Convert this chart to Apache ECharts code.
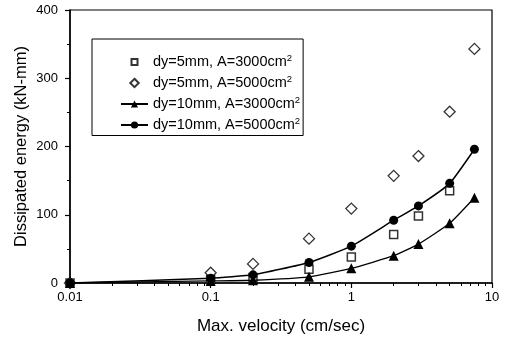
<!DOCTYPE html>
<html>
<head>
<meta charset="utf-8">
<script src="https://cdn.jsdelivr.net/npm/echarts@6/dist/echarts.min.js"></script>
<style>
  html, body { margin: 0; padding: 0; background: #fff; }
  #chart { width: 508px; height: 340px; }
</style>
</head>
<body>
<div id="chart"></div>
<script>
// values
const velocity = [0.01, 0.1, 0.2, 0.5, 1, 2, 3, 5, 7.5];
const sq5mm3000 = [0, 5, 8, 20, 38, 71, 98, 135];          // open squares (no point at 7.5)
const di5mm5000 = [0, 15, 28, 65, 109, 157, 186, 251, 343]; // open diamonds
const tr10mm3000 = [0, 3, 4, 9, 21.5, 40, 57, 87.5, 125];   // filled triangles, line
const ci10mm5000 = [0, 7, 12, 30, 54, 92, 113, 146, 196];   // filled circles, line
const seriesNames = [
  'dy=5mm, A=3000cm2',
  'dy=5mm, A=5000cm2',
  'dy=10mm, A=3000cm2',
  'dy=10mm, A=5000cm2'
];
const yTicks = [0, 100, 200, 300, 400];
const minorX = [0.02,0.03,0.04,0.05,0.06,0.07,0.08,0.09,
                0.2,0.3,0.4,0.5,0.6,0.7,0.8,0.9,
                2,3,4,5,6,7,8,9];

function pairs(ys) {
  return ys.map((y, i) => [velocity[i], y]);
}

const font = 'Liberation Sans, Arial, sans-serif';
const chart = echarts.init(document.getElementById('chart'));

// legend icons for the scatter series: small symbol centred in the 27x9 icon box
// (the lone M points only stretch the path's bounds)
const sqIcon = 'path://M0 0M27 9M10.5 1.5h6v6h-6z';
const diIcon = 'path://M0 0M27 9M13.5 0.3L17.7 4.5L13.5 8.7L9.3 4.5Z';

const option = {
  backgroundColor: '#fff',
  animation: false,
  grid: { left: 70, right: 16, top: 10, bottom: 57, show: true, borderColor: '#000', borderWidth: 1.2 },
  legend: {
    orient: 'vertical',
    left: 92, top: 39,
    itemWidth: 27, itemHeight: 9, itemGap: 4.5,
    padding: [14, 3, 3, 28],
    borderColor: '#000', borderWidth: 1,
    backgroundColor: '#fff',
    data: [
      { name: seriesNames[0], icon: sqIcon },
      { name: seriesNames[1], icon: diIcon },
      { name: seriesNames[2] },
      { name: seriesNames[3] }
    ],
    formatter: n => n.replace(/cm2$/, 'cm{sup|2}'),
    textStyle: {
      fontFamily: font, fontSize: 14.5, color: '#000',
      rich: { sup: { fontFamily: font, fontSize: 9.5, color: '#000', padding: [0, 0, 8, 0] } }
    }
  },
  xAxis: [{
    type: 'log', logBase: 10, min: 0.01, max: 10,
    name: 'Max. velocity (cm/sec)', nameLocation: 'middle', nameGap: 35,
    nameMoveOverlap: false,
    nameTextStyle: { fontFamily: font, fontSize: 17, color: '#000' },
    axisLine: { lineStyle: { color: '#000', width: 1.5 } },
    axisTick: { show: true, length: 5, lineStyle: { color: '#000', width: 1.2 } },
    axisLabel: { fontFamily: font, fontSize: 13, color: '#000', margin: 8,
      formatter: v => String(v) },
    splitLine: { show: false }
  }, {
    type: 'log', logBase: 10, min: 0.01, max: 10, position: 'bottom',
    axisLine: { show: false },
    axisTick: { show: true, length: 3, customValues: minorX, lineStyle: { color: '#000', width: 1 } },
    axisLabel: { show: false },
    splitLine: { show: false }
  }],
  yAxis: {
    type: 'value', min: 0, max: 400, interval: 100,
    name: 'Dissipated energy (kN-mm)', nameLocation: 'middle', nameGap: 40,
    nameMoveOverlap: false,
    nameTextStyle: { fontFamily: font, fontSize: 16.5, color: '#000' },
    axisLine: { show: true, lineStyle: { color: '#000', width: 1.5 } },
    axisTick: { show: true, length: 5, lineStyle: { color: '#000', width: 1.2 } },
    minorTick: { show: true, splitNumber: 2, length: 3, lineStyle: { color: '#000' } },
    axisLabel: { fontFamily: font, fontSize: 13, color: '#000', margin: 12,
      customValues: yTicks },
    splitLine: { show: false }
  },
  series: [{
    name: seriesNames[0], type: 'scatter', data: pairs(sq5mm3000),
    symbol: 'rect', symbolSize: 8,
    itemStyle: { color: '#fff', borderColor: '#000', borderWidth: 1.5 }
  }, {
    name: seriesNames[1], type: 'scatter', data: pairs(di5mm5000),
    symbol: 'diamond', symbolSize: 11,
    itemStyle: { color: '#fff', borderColor: '#000', borderWidth: 1.3 }
  }, {
    name: seriesNames[2], type: 'line', data: pairs(tr10mm3000),
    symbol: 'triangle', symbolSize: 10, smooth: 0.15,
    lineStyle: { color: '#000', width: 1.3 },
    itemStyle: { color: '#000' }
  }, {
    name: seriesNames[3], type: 'line', data: pairs(ci10mm5000),
    symbol: 'circle', symbolSize: 9, smooth: 0.15,
    lineStyle: { color: '#000', width: 1.5 },
    itemStyle: { color: '#000' }
  }]
};

chart.setOption(option);
</script>
</body>
</html>
